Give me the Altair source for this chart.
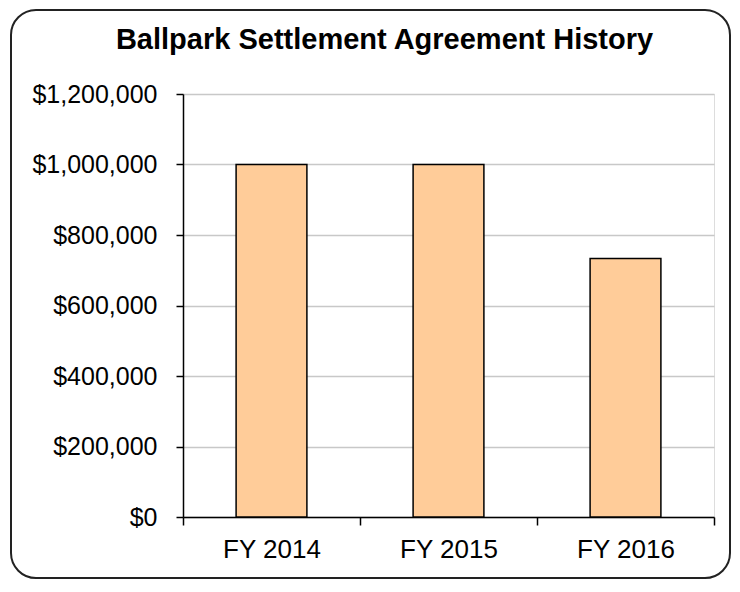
import altair as alt
import pandas as pd

categories = ["FY 2014", "FY 2015", "FY 2016"]
amounts = [1000000, 1000000, 733000]
y_ticks = [0, 200000, 400000, 600000, 800000, 1000000, 1200000]

df = pd.DataFrame({"year": categories, "amount": amounts})
FONT = "Liberation Sans"

W, H = 531, 423

frame = alt.Chart(pd.DataFrame({"k": [0]})).mark_rect(
    fill=None, stroke="#222222", strokeWidth=2, cornerRadius=25, clip=False
).encode(
    x=alt.value(-172), x2=alt.value(547), y=alt.value(-84), y2=alt.value(484)
)

bars = alt.Chart(df).mark_bar(
    width=alt.RelativeBandSize(0.4), fill="#FFCC99", stroke="#000000", strokeWidth=1.5
).encode(
    x=alt.X("year:N", sort=categories, title=None,
            scale=alt.Scale(paddingInner=0, paddingOuter=0),
            axis=alt.Axis(labelAngle=0, tickBand="extent", tickSize=8, tickColor="#000",
                          tickWidth=1.5, domainColor="#000", domainWidth=1.5,
                          labelFont=FONT, labelFontSize=26, labelColor="#000",
                          labelPadding=11, grid=False)),
    y=alt.Y("amount:Q", title=None,
            scale=alt.Scale(domain=[0, 1200000], nice=False),
            axis=alt.Axis(values=y_ticks, format="$,.0f", tickSize=7, tickColor="#000",
                          tickWidth=1.5, domainColor="#000", domainWidth=1.5,
                          labelFont=FONT, labelFontSize=25, labelColor="#000",
                          labelPadding=19, grid=True, gridColor="#c8c8c8",
                          gridWidth=1.5)),
)

chart = alt.layer(frame, bars).properties(
    width=W, height=H,
    title=alt.TitleParams("Ballpark Settlement Agreement History", font=FONT,
                          fontSize=29, fontWeight="bold", color="#000",
                          anchor="middle", dx=-64, dy=30, baseline="alphabetic", offset=-39),
    autosize=alt.AutoSizeParams(type="none"),
    padding={"left": 175, "top": 86, "right": 18, "bottom": 63},
).configure_view(stroke="#a0a0a0", strokeWidth=2).configure(background="white")

chart.save("out.html", embed_options={"renderer": "svg", "actions": False})
